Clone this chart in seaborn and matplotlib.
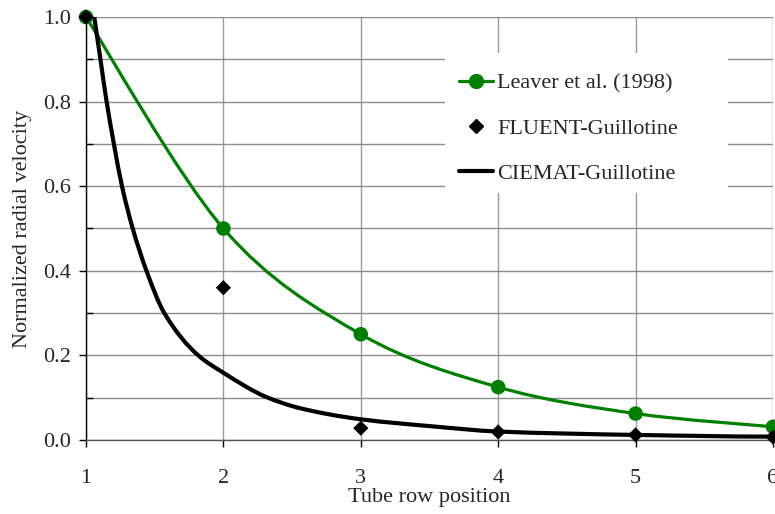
import numpy as np
import pandas as pd
import matplotlib
matplotlib.use("Agg")
import matplotlib.pyplot as plt
import seaborn as sns
from matplotlib.path import Path
from matplotlib.patches import PathPatch, Rectangle
from matplotlib.lines import Line2D
from matplotlib.ticker import MultipleLocator, FormatStrFormatter

# Tube row positions
rows = [1, 2, 3, 4, 5, 6]

# Leaver et al. (1998) measurements
leaver = [1.0, 0.5, 0.25, 0.125, 0.0625, 0.03125]

# FLUENT-Guillotine results
fluent = [1.0, 0.36, 0.028, 0.019, 0.012, 0.007]

# CIEMAT-Guillotine curve
ciemat_x = [1.06, 1.105, 1.15, 1.203, 1.262, 1.34, 1.44, 1.57, 1.817, 2.0,
            2.31, 2.56, 3.0, 3.53, 4.0, 5.0, 6.0, 6.05]
ciemat_y = [1.0, 0.9, 0.8, 0.7, 0.6, 0.5, 0.4, 0.3, 0.2, 0.159,
            0.102, 0.075, 0.049, 0.032, 0.020, 0.012, 0.008, 0.008]

sns.set_theme(style="white")
plt.rcParams["font.family"] = ["Liberation Serif", "DejaVu Serif"]
FS = 16

fig = plt.figure(figsize=(7.75, 5.14), dpi=100)
ax = fig.add_axes([86 / 775, 74 / 514, 687 / 775, 423 / 514])


def bezier_path(pts, tangents):
    """Cubic Bezier path through pts with the given (dx, dy) tangents."""
    verts = [pts[0]]
    codes = [Path.MOVETO]
    for i in range(len(pts) - 1):
        verts += [pts[i] + tangents[i][0], pts[i + 1] - tangents[i][1], pts[i + 1]]
        codes += [Path.CURVE4] * 3
    return Path(verts, codes)


def catmull_rom_path(xs, ys):
    """Smoothed line through evenly spaced points."""
    pts = np.column_stack([xs, ys]).astype(float)
    n = len(pts)
    tans = []
    for i in range(n - 1):
        p_prev = pts[i - 1] if i > 0 else pts[i]
        p_next = pts[i + 2] if i + 2 < n else pts[i + 1]
        tans.append(((pts[i + 1] - p_prev) / 6.0, (p_next - pts[i]) / 6.0))
    return bezier_path(pts, tans)


def pchip_path(xs, ys):
    """Shape-preserving smooth line through unevenly spaced points."""
    x = np.asarray(xs, float)
    y = np.asarray(ys, float)
    h = np.diff(x)
    d = np.diff(y) / h
    m = np.zeros_like(x)
    m[0], m[-1] = d[0], d[-1]
    for k in range(1, len(x) - 1):
        if d[k - 1] * d[k] > 0:
            w1 = 2 * h[k] + h[k - 1]
            w2 = h[k] + 2 * h[k - 1]
            m[k] = (w1 + w2) / (w1 / d[k - 1] + w2 / d[k])
    pts = np.column_stack([x, y])
    tans = []
    for i in range(len(x) - 1):
        t = h[i] / 3.0
        tans.append((np.array([t, t * m[i]]), np.array([t, t * m[i + 1]])))
    return bezier_path(pts, tans)


green = "#008000"

# Plain backdrop behind the legend entries
ax.add_patch(Rectangle((0.5226, 0.584), 0.412, 0.331, transform=ax.transAxes,
                       facecolor="white", edgecolor="none", zorder=2))

# Smoothed lines
ax.add_patch(PathPatch(catmull_rom_path(rows, leaver), facecolor="none",
                       edgecolor=green, lw=2.3, zorder=3, capstyle="round"))
ax.add_patch(PathPatch(pchip_path(ciemat_x, ciemat_y), facecolor="none",
                       edgecolor="black", lw=3.0, zorder=4, capstyle="round"))

df = pd.DataFrame({"row": rows, "leaver": leaver, "fluent": fluent})
sns.scatterplot(data=df, x="row", y="leaver", ax=ax, color=green, marker="o",
                s=110, edgecolor="none", zorder=5, clip_on=False, legend=False)
sns.scatterplot(data=df, x="row", y="fluent", ax=ax, color="black", marker="D",
                s=60, edgecolor="none", zorder=6, clip_on=False, legend=False)

ax.set_xlim(1, 6)
ax.set_ylim(0, 1.0)
ax.xaxis.set_major_locator(MultipleLocator(1))
ax.yaxis.set_major_locator(MultipleLocator(0.2))
ax.yaxis.set_minor_locator(MultipleLocator(0.1))
ax.yaxis.set_major_formatter(FormatStrFormatter("%.1f"))

ax.grid(True, which="major", axis="x", color="#9a9a9a", lw=1.0)
ax.grid(True, which="both", axis="y", color="#8c8c8c", lw=1.0)
ax.set_axisbelow(True)

for side in ["top", "right"]:
    ax.spines[side].set_visible(False)
ax.spines["left"].set_color("black")
ax.spines["left"].set_linewidth(1.0)
ax.spines["bottom"].set_color("#555555")
ax.spines["bottom"].set_linewidth(1.0)

ax.tick_params(axis="x", which="major", direction="out", length=5, width=1,
               color="black", pad=16, labelsize=FS, bottom=True)
ax.tick_params(axis="y", which="major", direction="out", length=5, width=1,
               color="black", pad=6, labelsize=FS, left=True)
ax.tick_params(axis="y", which="minor", direction="in", length=5, width=1,
               color="black", left=True)

ax.set_xlabel("Tube row position", fontsize=FS, labelpad=0)
ax.set_ylabel("Normalized radial velocity", fontsize=FS, labelpad=8)

handles = [
    Line2D([], [], color=green, lw=2.3, marker="o", markersize=10),
    Line2D([], [], color="none", marker="D", markersize=7,
           markerfacecolor="black", markeredgecolor="black"),
    Line2D([], [], color="black", lw=3.0),
]
labels = ["Leaver et al. (1998)", "FLUENT-Guillotine", "CIEMAT-Guillotine"]
leg = ax.legend(handles, labels, loc="upper left", bbox_to_anchor=(0.510, 0.92),
                frameon=False, fontsize=FS, handlelength=1.53, handletextpad=0.22,
                labelspacing=1.1, borderpad=0.5)
leg.set_zorder(10)

fig.savefig("out.png", dpi=100)
